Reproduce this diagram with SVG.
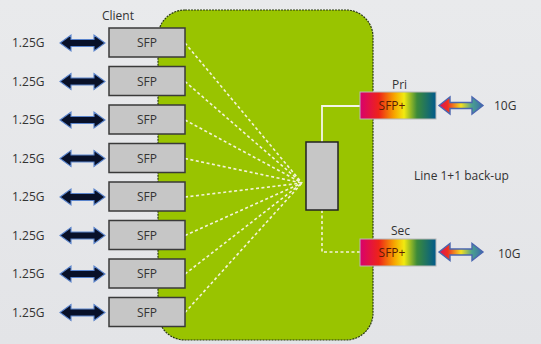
<svg xmlns="http://www.w3.org/2000/svg" width="541" height="344" viewBox="0 0 541 344">
<defs>
<linearGradient id="bg" x1="0" y1="0" x2="0" y2="1">
<stop offset="0" stop-color="#e9eaec"/><stop offset="1" stop-color="#e3e4e7"/>
</linearGradient>
<linearGradient id="rainbow" x1="0" y1="0" x2="1" y2="0">
<stop offset="0" stop-color="#d8006e"/>
<stop offset="0.25" stop-color="#ee2418"/>
<stop offset="0.45" stop-color="#f7a400"/>
<stop offset="0.58" stop-color="#f2ea10"/>
<stop offset="0.75" stop-color="#3c8a3a"/>
<stop offset="1" stop-color="#005a8c"/>
</linearGradient>
<linearGradient id="arr" x1="0" y1="0" x2="1" y2="0">
<stop offset="0" stop-color="#d81060"/>
<stop offset="0.2" stop-color="#ee3020"/>
<stop offset="0.5" stop-color="#f4e020"/>
<stop offset="0.75" stop-color="#4aa090"/>
<stop offset="1" stop-color="#3a6aaa"/>
</linearGradient>
<path id="darr" d="M0 0 L11 -8 L11 -3.5 L34 -3.5 L34 -8 L45 0 L34 8 L34 3.5 L11 3.5 L11 8 Z"/>
<path id="garr" d="M0 0 L11 -8.5 L11 -3 L33 -3 L33 -8.5 L44 0 L33 8.5 L33 3 L11 3 L11 8.5 Z"/>
</defs>
<style>
.t{font-family:"Open Sans","Liberation Sans",sans-serif;font-size:12px;fill:#333}
.sfp{fill:#c6c6c6;stroke:#3a3a3a;stroke-width:1.5}
.st{font-family:"Open Sans","Liberation Sans",sans-serif;font-size:12px;fill:#333;text-anchor:middle}
.da{fill:#081028;stroke:#5a84cc;stroke-width:1.1;stroke-linejoin:miter}
.ga{fill:url(#arr);stroke:#4a66b0;stroke-width:1.4}
.fib{fill:none;stroke:#f4f4d8;stroke-width:1.6;stroke-dasharray:3 2.5}
.plus{fill:url(#rainbow);stroke:#b8b8b8;stroke-width:1}
.pt{font-family:"Open Sans","Liberation Sans",sans-serif;font-size:12px;fill:#5a1c05;text-anchor:middle}
</style>
<rect width="541" height="344" fill="url(#bg)"/>
<g id="chassis">
<rect x="158" y="10" width="215" height="330" rx="27" ry="27" fill="#99c400" stroke="#2a3a10" stroke-width="1.2" stroke-dasharray="2 1"/>
</g>
<g id="connectors">
<path class="fib" d="M185 43 L302 183"/>
<path class="fib" d="M185 81.5 L302 183"/>
<path class="fib" d="M185 120 L302 183"/>
<path class="fib" d="M185 158.5 L302 183"/>
<path class="fib" d="M185 197 L302 183"/>
<path class="fib" d="M185 235.5 L302 183"/>
<path class="fib" d="M185 274 L302 183"/>
<path class="fib" d="M185 312.5 L302 183"/>
<path d="M322 142 L322 106 L360 106" fill="none" stroke="#f4f4e8" stroke-width="1.8"/>
<path class="fib" d="M322 210 L322 252 L360 252"/>
</g>
<g id="client-label"><text class="t" x="102" y="20">Client</text></g>
<g id="sfp1"><text class="t" x="12" y="47">1.25G</text><use href="#darr" class="da" x="60" y="43"/><rect class="sfp" x="109" y="28" width="76" height="29"/><text class="st" x="147" y="47">SFP</text></g>
<g id="sfp2"><text class="t" x="12" y="85.5">1.25G</text><use href="#darr" class="da" x="60" y="81.5"/><rect class="sfp" x="109" y="66.5" width="76" height="29"/><text class="st" x="147" y="85.5">SFP</text></g>
<g id="sfp3"><text class="t" x="12" y="124">1.25G</text><use href="#darr" class="da" x="60" y="120"/><rect class="sfp" x="109" y="105" width="76" height="29"/><text class="st" x="147" y="124">SFP</text></g>
<g id="sfp4"><text class="t" x="12" y="162.5">1.25G</text><use href="#darr" class="da" x="60" y="158.5"/><rect class="sfp" x="109" y="143.5" width="76" height="29"/><text class="st" x="147" y="162.5">SFP</text></g>
<g id="sfp5"><text class="t" x="12" y="201">1.25G</text><use href="#darr" class="da" x="60" y="197"/><rect class="sfp" x="109" y="182" width="76" height="29"/><text class="st" x="147" y="201">SFP</text></g>
<g id="sfp6"><text class="t" x="12" y="239.5">1.25G</text><use href="#darr" class="da" x="60" y="235.5"/><rect class="sfp" x="109" y="220.5" width="76" height="29"/><text class="st" x="147" y="239.5">SFP</text></g>
<g id="sfp7"><text class="t" x="12" y="278">1.25G</text><use href="#darr" class="da" x="60" y="274"/><rect class="sfp" x="109" y="259" width="76" height="29"/><text class="st" x="147" y="278">SFP</text></g>
<g id="sfp8"><text class="t" x="12" y="316.5">1.25G</text><use href="#darr" class="da" x="60" y="312.5"/><rect class="sfp" x="109" y="297.5" width="76" height="29"/><text class="st" x="147" y="316.5">SFP</text></g>
<g id="mux"><rect x="306" y="142" width="32" height="68" fill="#c6c6c6" stroke="#222" stroke-width="1.5"/></g>
<g id="pri"><text class="t" x="392" y="89">Pri</text><rect class="plus" x="360" y="92" width="76" height="27"/><text class="pt" x="392" y="110">SFP+</text><use href="#garr" class="ga" x="439" y="105.5"/><text class="t" x="494" y="110">10G</text></g>
<g id="sec"><text class="t" x="391" y="235">Sec</text><rect class="plus" x="360" y="239" width="76" height="27"/><text class="pt" x="392" y="257">SFP+</text><use href="#garr" class="ga" x="439" y="252"/><text class="t" x="498" y="258">10G</text></g>
<g id="line-label"><text class="t" x="414" y="180">Line 1+1 back-up</text></g>
</svg>
